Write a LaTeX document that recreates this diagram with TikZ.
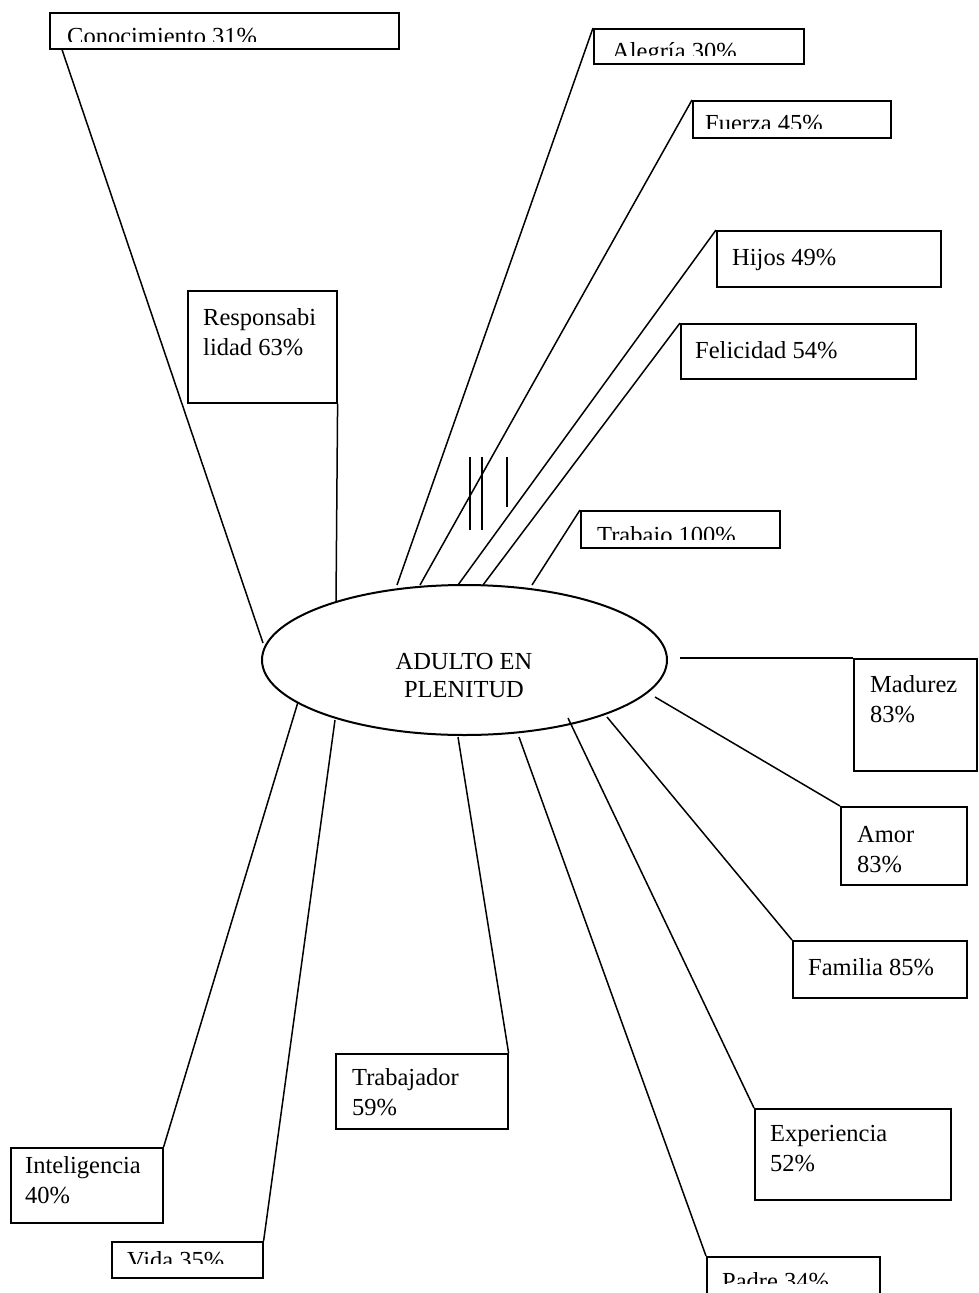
\documentclass[tikz,border=0pt]{standalone}
\usepackage{fontspec}
\setmainfont{Liberation Serif}
\usetikzlibrary{shapes.geometric,calc}
\begin{document}
\begin{tikzpicture}[x=1pt,y=-1pt,
  box/.style={draw, line width=1.6pt, rectangle, inner sep=0pt, anchor=north west},
  conn/.style={line width=1.5pt},
  lbl/.style={anchor=base west, inner sep=0pt, font=\fontsize{24.5}{29.5}\selectfont, align=left},
  ctr/.style={anchor=base, inner sep=0pt, font=\fontsize{24.5}{28}\selectfont, align=center},
  tick/.style={line width=1.8pt},
]
\clip (0,0) rectangle (978,1293);
\fill[white] (0,0) rectangle (978,1293);

% central ellipse
\node[ellipse, draw, line width=2pt, minimum width=405pt, minimum height=150pt, inner sep=0pt] (ell) at (464.5,660) {};
\node[ctr] (ellt) at (464,697) {ADULTO EN\\PLENITUD};

% ellipse contact points
\coordinate (eConoc) at (263,643);
\coordinate (eAleg) at (397,585);
\coordinate (eFuer) at (420,585);
\coordinate (eHijos) at (458,585);
\coordinate (eFelic) at (483,585);
\coordinate (eTrab) at (532,585);
\coordinate (eResp) at (336,602);
\coordinate (eMadur) at (680,658);
\coordinate (eAmor) at (655,697);
\coordinate (eFamil) at (607,717);
\coordinate (eExper) at (568,718);
\coordinate (ePadre) at (519,737);
\coordinate (eTrabr) at (458,737);
\coordinate (eIntel) at (298,702);
\coordinate (eVida) at (335,720);

% boxes
\node[box, minimum width=349pt, minimum height=36pt] (conoc) at (49,12) {};
\node[box, minimum width=210pt, minimum height=35pt] (aleg) at (593,28) {};
\node[box, minimum width=198pt, minimum height=37pt] (fuer) at (692,100) {};
\node[box, minimum width=224pt, minimum height=56pt] (hijos) at (716,230) {};
\node[box, minimum width=235pt, minimum height=55pt] (felic) at (680,323) {};
\node[box, minimum width=199pt, minimum height=37pt] (trab) at (580,510) {};
\node[box, minimum width=149pt, minimum height=112pt] (resp) at (187,290) {};
\node[box, minimum width=123pt, minimum height=112pt] (madur) at (853,658) {};
\node[box, minimum width=126pt, minimum height=78pt] (amor) at (840,806) {};
\node[box, minimum width=174pt, minimum height=57pt] (famil) at (792,940) {};
\node[box, minimum width=196pt, minimum height=91pt] (exper) at (754,1108) {};
\node[box, minimum width=173pt, minimum height=60pt] (padre) at (706,1256) {};
\node[box, minimum width=172pt, minimum height=75pt] (trabr) at (335,1053) {};
\node[box, minimum width=152pt, minimum height=75pt] (intel) at (10,1147) {};
\node[box, minimum width=151pt, minimum height=36pt] (vida) at (111,1241) {};

% clipped labels
\begin{scope}\clip (49,12) rectangle (398,41);
\node[lbl] (conocT) at (67,44.5) {Conocimiento 31\%};\end{scope}
\begin{scope}\clip (593,28) rectangle (803,55);
\node[lbl] (alegT) at (612,59.5) {Alegría 30\%};\end{scope}
\begin{scope}\clip (692,100) rectangle (890,128);
\node[lbl] (fuerT) at (705,131.5) {Fuerza 45\%};\end{scope}
\begin{scope}\clip (580,510) rectangle (779,539);
\node[lbl] (trabT) at (597,543.5) {Trabajo 100\%};\end{scope}
\begin{scope}\clip (111,1241) rectangle (262,1263);
\node[lbl] (vidaT) at (127,1268) {Vida 35\%};\end{scope}
\begin{scope}\clip (706,1256) rectangle (879,1283);
\node[lbl] (padreT) at (722,1289) {Padre 34\%};\end{scope}

% plain labels (base = last line)
\node[lbl] (respT) at (203,355) {Responsabi\\lidad 63\%};
\node[lbl] (madurT) at (870,722) {Madurez\\83\%};
\node[lbl] (amorT) at (857,872) {Amor\\83\%};
\node[lbl] (familT) at (808,975) {Familia 85\%};
\node[lbl] (hijosT) at (732,265) {Hijos 49\%};
\node[lbl] (felicT) at (695,358) {Felicidad 54\%};
\node[lbl] (experT) at (770,1171) {Experiencia\\52\%};
\node[lbl] (trabrT) at (352,1115) {Trabajador\\59\%};
\node[lbl] (intelT) at (25,1203) {Inteligencia\\40\%};

% connectors
\draw[conn] ($(conoc.south west)+(13,0)$) -- (eConoc);
\draw[conn] (aleg.north west) -- (eAleg);
\draw[conn] (fuer.north west) -- (eFuer);
\draw[conn] (hijos.north west) -- (eHijos);
\draw[conn] (felic.north west) -- (eFelic);
\draw[conn] (trab.north west) -- (eTrab);
\draw[conn] (resp.south east) -- (eResp);
\draw[conn] (madur.north west) -- (eMadur);
\draw[conn] (amor.north west) -- (eAmor);
\draw[conn] (famil.north west) -- (eFamil);
\draw[conn] (exper.north west) -- (eExper);
\draw[conn] (padre.north west) -- (ePadre);
\draw[conn] (trabr.north east) -- (eTrabr);
\draw[conn] (intel.north east) -- (eIntel);
\draw[conn] (vida.north east) -- (eVida);

% tick marks
\draw[tick] (470,457) -- (470,530);
\draw[tick] (482,457) -- (482,530);
\draw[tick] (507,457) -- (507,507);
\end{tikzpicture}
\end{document}
